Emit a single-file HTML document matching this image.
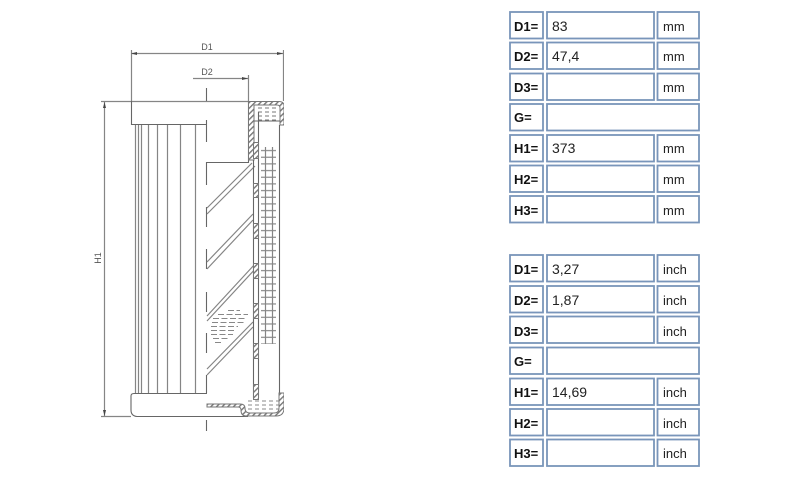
<!DOCTYPE html>
<html>
<head>
<meta charset="utf-8">
<style>
html,body{margin:0;padding:0;background:#fff;width:790px;height:480px;overflow:hidden}
svg{display:block}
.d{fill:none;stroke:#858585;stroke-width:1.200}
.k{fill:none;stroke:#666;stroke-width:1.100}
.b{fill:#fff;stroke:#7995ba;stroke-width:1.800}
.l{font:bold 13px "Liberation Sans",sans-serif;fill:#111}
.v{font:14px "Liberation Sans",sans-serif;fill:#222}
.u{font:13px "Liberation Sans",sans-serif;fill:#222}
.t{font:9px "Liberation Sans",sans-serif;fill:#555}
</style>
</head>
<body>
<svg width="790" height="480" viewBox="0 0 790 480" xmlns="http://www.w3.org/2000/svg">
<defs>
<pattern id="h" width="4" height="4" patternUnits="userSpaceOnUse" patternTransform="rotate(45)">
<rect width="4" height="4" fill="#fff"/><rect width="1.4" height="4" fill="#777"/>
</pattern>
<pattern id="t" width="15" height="6.67" patternUnits="userSpaceOnUse" x="261" y="147">
<rect x="0" y="3" width="15" height="1.100" fill="#808080"/>
</pattern>
<filter id="s" x="0" y="0" width="100%" height="100%"><feGaussianBlur stdDeviation="0.300"/></filter>
</defs>

<g filter="url(#s)">
<!-- dimensions -->
<path class="d" d="M131.500 50V101M283.500 50V101M131 53.500H283M193 78.500H248M248.500 75V101M101 101.500H248M104.500 101V416M101 416.500H131"/>
<path fill="#444" d="M131 53.500l6-1.500v3zM283 53.500l-6-1.500v3zM248 78.500l-6-1.500v3zM104.500 102l-1.500 6h3zM104.500 416l-1.500-6h3z"/>
<text class="t" x="207" y="50" text-anchor="middle">D1</text>
<text class="t" x="207" y="75" text-anchor="middle">D2</text>
<text class="t" transform="translate(101,258) rotate(-90)" text-anchor="middle">H1</text>

<!-- centre axis -->
<path class="k" d="M206.500 88V101M206.500 120V142M206.500 162V185M206.500 207V227M206.500 249V269M206.500 292V312M206.500 333V353M206.500 375V393M206.500 420V431"/>

<!-- cap top -->
<path class="k" d="M131.500 101V124.500H207M248.500 101V162.500H207"/>
<!-- pleats -->
<path class="d" d="M135.500 125V393M138.500 125V393M141.500 125V393M148.500 125V393M157.500 125V393M167.500 125V393M180.500 125V393M195.500 125V393"/>
<!-- cap bottom -->
<path class="k" d="M207 393.500H134Q131 393.500 131 396V410Q131 416 137 416.500H248"/>

<!-- diagonals -->
<path class="d" d="M207 208L252 163M207 214L255 166M207 262L253 214M207 269L253 220M207 316L255 264M207 321L258 266M207 369L253 322M207 375L253 327"/>

<!-- top hatched cap -->
<path d="M248.500 101.500H279Q284 101.500 284 106V125H280V108Q280 105 277 105H254V160H248.500Z" fill="url(#h)" stroke="#777"/>
<path d="M258 108H279M258 112H279M258 116H279M258 120H279" fill="none" stroke="#777" stroke-dasharray="4 3"/>
<path class="k" d="M254 121H280"/>

<!-- tube walls -->
<path class="k" d="M253.500 160V398M258.500 112V398M279.500 125V393"/>
<g fill="url(#h)" stroke="#777">
<rect x="253.500" y="142.500" width="5" height="16"/>
<rect x="253.500" y="183.500" width="5" height="14"/>
<rect x="253.500" y="223.500" width="5" height="15"/>
<rect x="253.500" y="263.500" width="5" height="15"/>
<rect x="253.500" y="303.500" width="5" height="15"/>
<rect x="253.500" y="343.500" width="5" height="15"/>
<rect x="253.500" y="384.500" width="5" height="15"/>
</g>

<!-- inner mesh -->
<rect x="261" y="147" width="15" height="197" fill="url(#t)"/>
<path class="d" d="M265.500 147V344M272.500 147V344"/>

<!-- bottom hatched cap -->
<path d="M207 404H240Q245 404 245 408Q245 413 250 413H274Q279 413 279 408V393H284V408Q284 416 276 416H246Q241 416 241 410Q241 407 238 407H207Z" fill="url(#h)" stroke="#777"/>
<path d="M248 401H279M248 405H279M248 409H279" fill="none" stroke="#888" stroke-dasharray="4 3"/>

<!-- element dashes -->
<path d="M228 310.500H240M218 314.500H248M213 318.500H247M212 322.500H244M211 326.500H238M211 330.500H235M211 334.500H233M213 338.500H228M215 342.500H222" fill="none" stroke="#888" stroke-dasharray="6 2.500"/>
</g>

<!-- table 1 -->
<rect class="b" x="510" y="12" width="33" height="26.500"/><rect class="b" x="547" y="12" width="107" height="26.500"/><rect class="b" x="657.500" y="12" width="41.500" height="26.500"/>
<rect class="b" x="510" y="42.500" width="33" height="26.500"/><rect class="b" x="547" y="42.500" width="107" height="26.500"/><rect class="b" x="657.500" y="42.500" width="41.500" height="26.500"/>
<rect class="b" x="510" y="73.500" width="33" height="26.500"/><rect class="b" x="547" y="73.500" width="107" height="26.500"/><rect class="b" x="657.500" y="73.500" width="41.500" height="26.500"/>
<rect class="b" x="510" y="104" width="33" height="26.500"/><rect class="b" x="547" y="104" width="152" height="26.500"/>
<rect class="b" x="510" y="135" width="33" height="26.500"/><rect class="b" x="547" y="135" width="107" height="26.500"/><rect class="b" x="657.500" y="135" width="41.500" height="26.500"/>
<rect class="b" x="510" y="165.500" width="33" height="26.500"/><rect class="b" x="547" y="165.500" width="107" height="26.500"/><rect class="b" x="657.500" y="165.500" width="41.500" height="26.500"/>
<rect class="b" x="510" y="196" width="33" height="26.500"/><rect class="b" x="547" y="196" width="107" height="26.500"/><rect class="b" x="657.500" y="196" width="41.500" height="26.500"/>

<text class="l" x="514" y="31">D1=</text><text class="v" x="552" y="31">83</text><text class="u" x="663" y="31">mm</text>
<text class="l" x="514" y="61">D2=</text><text class="v" x="552" y="61">47,4</text><text class="u" x="663" y="61">mm</text>
<text class="l" x="514" y="92">D3=</text><text class="u" x="663" y="92">mm</text>
<text class="l" x="514" y="122">G=</text>
<text class="l" x="514" y="153">H1=</text><text class="v" x="552" y="153">373</text><text class="u" x="663" y="153">mm</text>
<text class="l" x="514" y="184">H2=</text><text class="u" x="663" y="184">mm</text>
<text class="l" x="514" y="215">H3=</text><text class="u" x="663" y="215">mm</text>

<!-- table 2 -->
<rect class="b" x="510" y="255" width="33" height="26.500"/><rect class="b" x="547" y="255" width="107" height="26.500"/><rect class="b" x="657.500" y="255" width="41.500" height="26.500"/>
<rect class="b" x="510" y="286" width="33" height="26.500"/><rect class="b" x="547" y="286" width="107" height="26.500"/><rect class="b" x="657.500" y="286" width="41.500" height="26.500"/>
<rect class="b" x="510" y="316.500" width="33" height="26.500"/><rect class="b" x="547" y="316.500" width="107" height="26.500"/><rect class="b" x="657.500" y="316.500" width="41.500" height="26.500"/>
<rect class="b" x="510" y="347.500" width="33" height="26.500"/><rect class="b" x="547" y="347.500" width="152" height="26.500"/>
<rect class="b" x="510" y="378.500" width="33" height="26.500"/><rect class="b" x="547" y="378.500" width="107" height="26.500"/><rect class="b" x="657.500" y="378.500" width="41.500" height="26.500"/>
<rect class="b" x="510" y="409" width="33" height="26.500"/><rect class="b" x="547" y="409" width="107" height="26.500"/><rect class="b" x="657.500" y="409" width="41.500" height="26.500"/>
<rect class="b" x="510" y="439.500" width="33" height="26.500"/><rect class="b" x="547" y="439.500" width="107" height="26.500"/><rect class="b" x="657.500" y="439.500" width="41.500" height="26.500"/>

<text class="l" x="514" y="274">D1=</text><text class="v" x="552" y="274">3,27</text><text class="u" x="663" y="274">inch</text>
<text class="l" x="514" y="305">D2=</text><text class="v" x="552" y="305">1,87</text><text class="u" x="663" y="305">inch</text>
<text class="l" x="514" y="336">D3=</text><text class="u" x="663" y="336">inch</text>
<text class="l" x="514" y="366">G=</text>
<text class="l" x="514" y="397">H1=</text><text class="v" x="552" y="397">14,69</text><text class="u" x="663" y="397">inch</text>
<text class="l" x="514" y="428">H2=</text><text class="u" x="663" y="428">inch</text>
<text class="l" x="514" y="458">H3=</text><text class="u" x="663" y="458">inch</text>
</svg>
</body>
</html>
